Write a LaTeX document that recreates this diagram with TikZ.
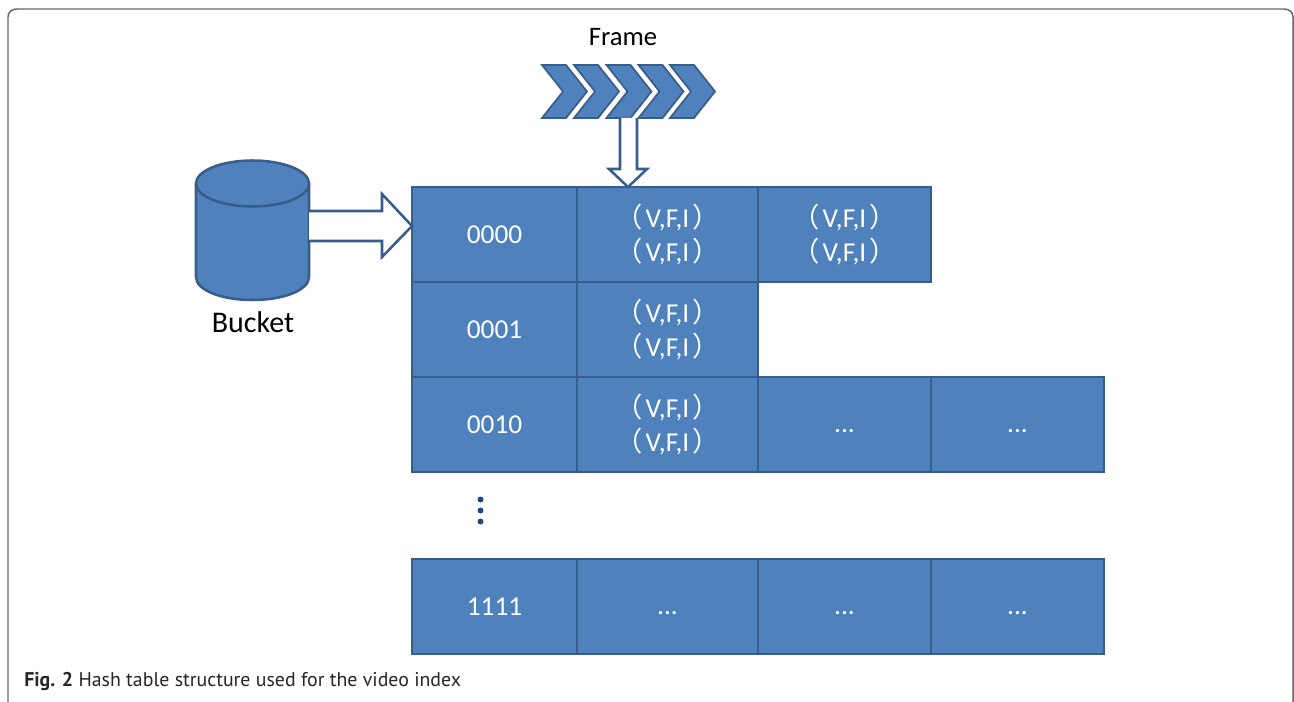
\documentclass[tikz,border=0pt]{standalone}
\usepackage{fontspec}
\setmainfont{Carlito}
\newfontfamily\cjk{Noto Sans CJK SC}
\newfontfamily\capfont{PT Sans}
\usepackage{xcolor}
\definecolor{cellfill}{HTML}{4F81BD}
\definecolor{celldraw}{HTML}{385D8A}
\definecolor{dotfill}{HTML}{1F497D}
\newcommand{\vfione}{{\cjk （}\kern2pt V,F,I\kern2pt{\cjk ）}}
\newcommand{\vfipair}{\vfione\\\vfione}
\tikzset{
    cell/.style={draw=celldraw,fill=cellfill,line width=2.2pt,text=white,inner sep=0pt,minimum height=71.25pt,align=center,font=\fontsize{20.5}{25}\selectfont},
    keycell/.style={cell,minimum width=123.75pt,text height=13.5pt,text depth=0pt},
    widecell/.style={cell,minimum width=135.75pt},
    slimcell/.style={cell,minimum width=129.75pt},
    gapcell/.style={text height=12pt,text depth=0pt},
    solidpart/.style={draw=celldraw,fill=cellfill,line width=1.9pt,line join=miter},
    chevronpart/.style={draw=celldraw,fill=cellfill,line width=1.3pt,line join=miter},
    blockarrow/.style={draw=celldraw,fill=white,line width=1.9pt,line join=miter},
    gapdot/.style={circle,fill=dotfill,inner sep=0pt,minimum size=4.5pt}
}
\begin{document}
\begin{tikzpicture}[x=0.75pt,y=-0.75pt]
    \useasboundingbox (0,0) rectangle (1294,702);
    \draw[black!60,line width=1.1pt] (8,702) -- (8,17) .. controls (8,12) and (12,9) .. (17,9) -- (1284,9) .. controls (1289,9) and (1293,12) .. (1293,17) -- (1293,702);

    \node[font=\fontsize{20}{24}\selectfont] (frame) at (623,37) {Frame};
    \node[font=\fontsize{22.5}{26}\selectfont] (bucket) at (253,322) {Bucket};

    \node[keycell] (k_1) at (494.5,234.5) {0000};
    \node[widecell] (v_1) at (667.5,234.5) {\vfipair};
    \node[slimcell] (w_1) at (844.5,234.5) {\vfipair};

    \node[keycell] (k_2) at (494.5,329.5) {0001};
    \node[widecell] (v_2) at (667.5,329.5) {\vfipair};

    \node[keycell] (k_3) at (494.5,424.5) {0010};
    \node[widecell] (v_3) at (667.5,424.5) {\vfipair};
    \node[slimcell,gapcell] (w_3) at (844.5,424.5) {...};
    \node[slimcell,gapcell] (x_3) at (1017.5,424.5) {...};

    \node[keycell] (k_4) at (494.5,606.5) {1111};
    \node[widecell,gapcell] (v_4) at (667.5,606.5) {...};
    \node[slimcell,gapcell] (w_4) at (844.5,606.5) {...};
    \node[slimcell,gapcell] (x_4) at (1017.5,606.5) {...};

    \node[gapdot] (d_1) at (480.5,499.5) {};
    \node[gapdot] (d_2) at (480.5,510.5) {};
    \node[gapdot] (d_3) at (480.5,521.5) {};

    \draw[solidpart] (196,183.5) -- (196,277) .. controls (196,290) and (221,300) .. (252.5,300) .. controls (284,300) and (309,290) .. (309,277) -- (309,183.5);
    \draw[solidpart] (252.5,183.5) ellipse [x radius=56.5,y radius=23];

    \coordinate (c_1) at (542,65);
    \coordinate (c_2) at (574,65);
    \coordinate (c_3) at (606.5,65);
    \coordinate (c_4) at (638.5,65);
    \coordinate (c_5) at (670,65);
    \draw[chevronpart] (c_1) -- ++(24,0) -- ++(21,26.5) -- ++(-21,26.5) -- ++(-24,0) -- ++(21,-26.5) -- cycle;
    \draw[chevronpart] (c_2) -- ++(24,0) -- ++(21,26.5) -- ++(-21,26.5) -- ++(-24,0) -- ++(21,-26.5) -- cycle;
    \draw[chevronpart] (c_3) -- ++(24,0) -- ++(21,26.5) -- ++(-21,26.5) -- ++(-24,0) -- ++(21,-26.5) -- cycle;
    \draw[chevronpart] (c_4) -- ++(24,0) -- ++(21,26.5) -- ++(-21,26.5) -- ++(-24,0) -- ++(21,-26.5) -- cycle;
    \draw[chevronpart] (c_5) -- ++(24,0) -- ++(21,26.5) -- ++(-21,26.5) -- ++(-24,0) -- ++(21,-26.5) -- cycle;

    \coordinate (a_1) at (309,211);
    \coordinate (a_2) at (412,226);
    \draw[blockarrow] (a_1) -- ++(73,0) -- ++(0,-17) -- (a_2) -- (382,257) -- ++(0,-16) -- (309,241);

    \coordinate (b_1) at (620,118);
    \coordinate (b_2) at (628,187);
    \draw[blockarrow] (b_1) -- ++(0,51) -- ++(-11,0) -- (b_2) -- (647,169) -- ++(-10,0) -- (637,118);

    \node[anchor=west,inner sep=0pt,text=black!85,font=\capfont\fontsize{14.9}{18}\selectfont] (caption) at (24,682) {\textbf{Fig. 2} Hash table structure used for the video index};
\end{tikzpicture}
\end{document}
